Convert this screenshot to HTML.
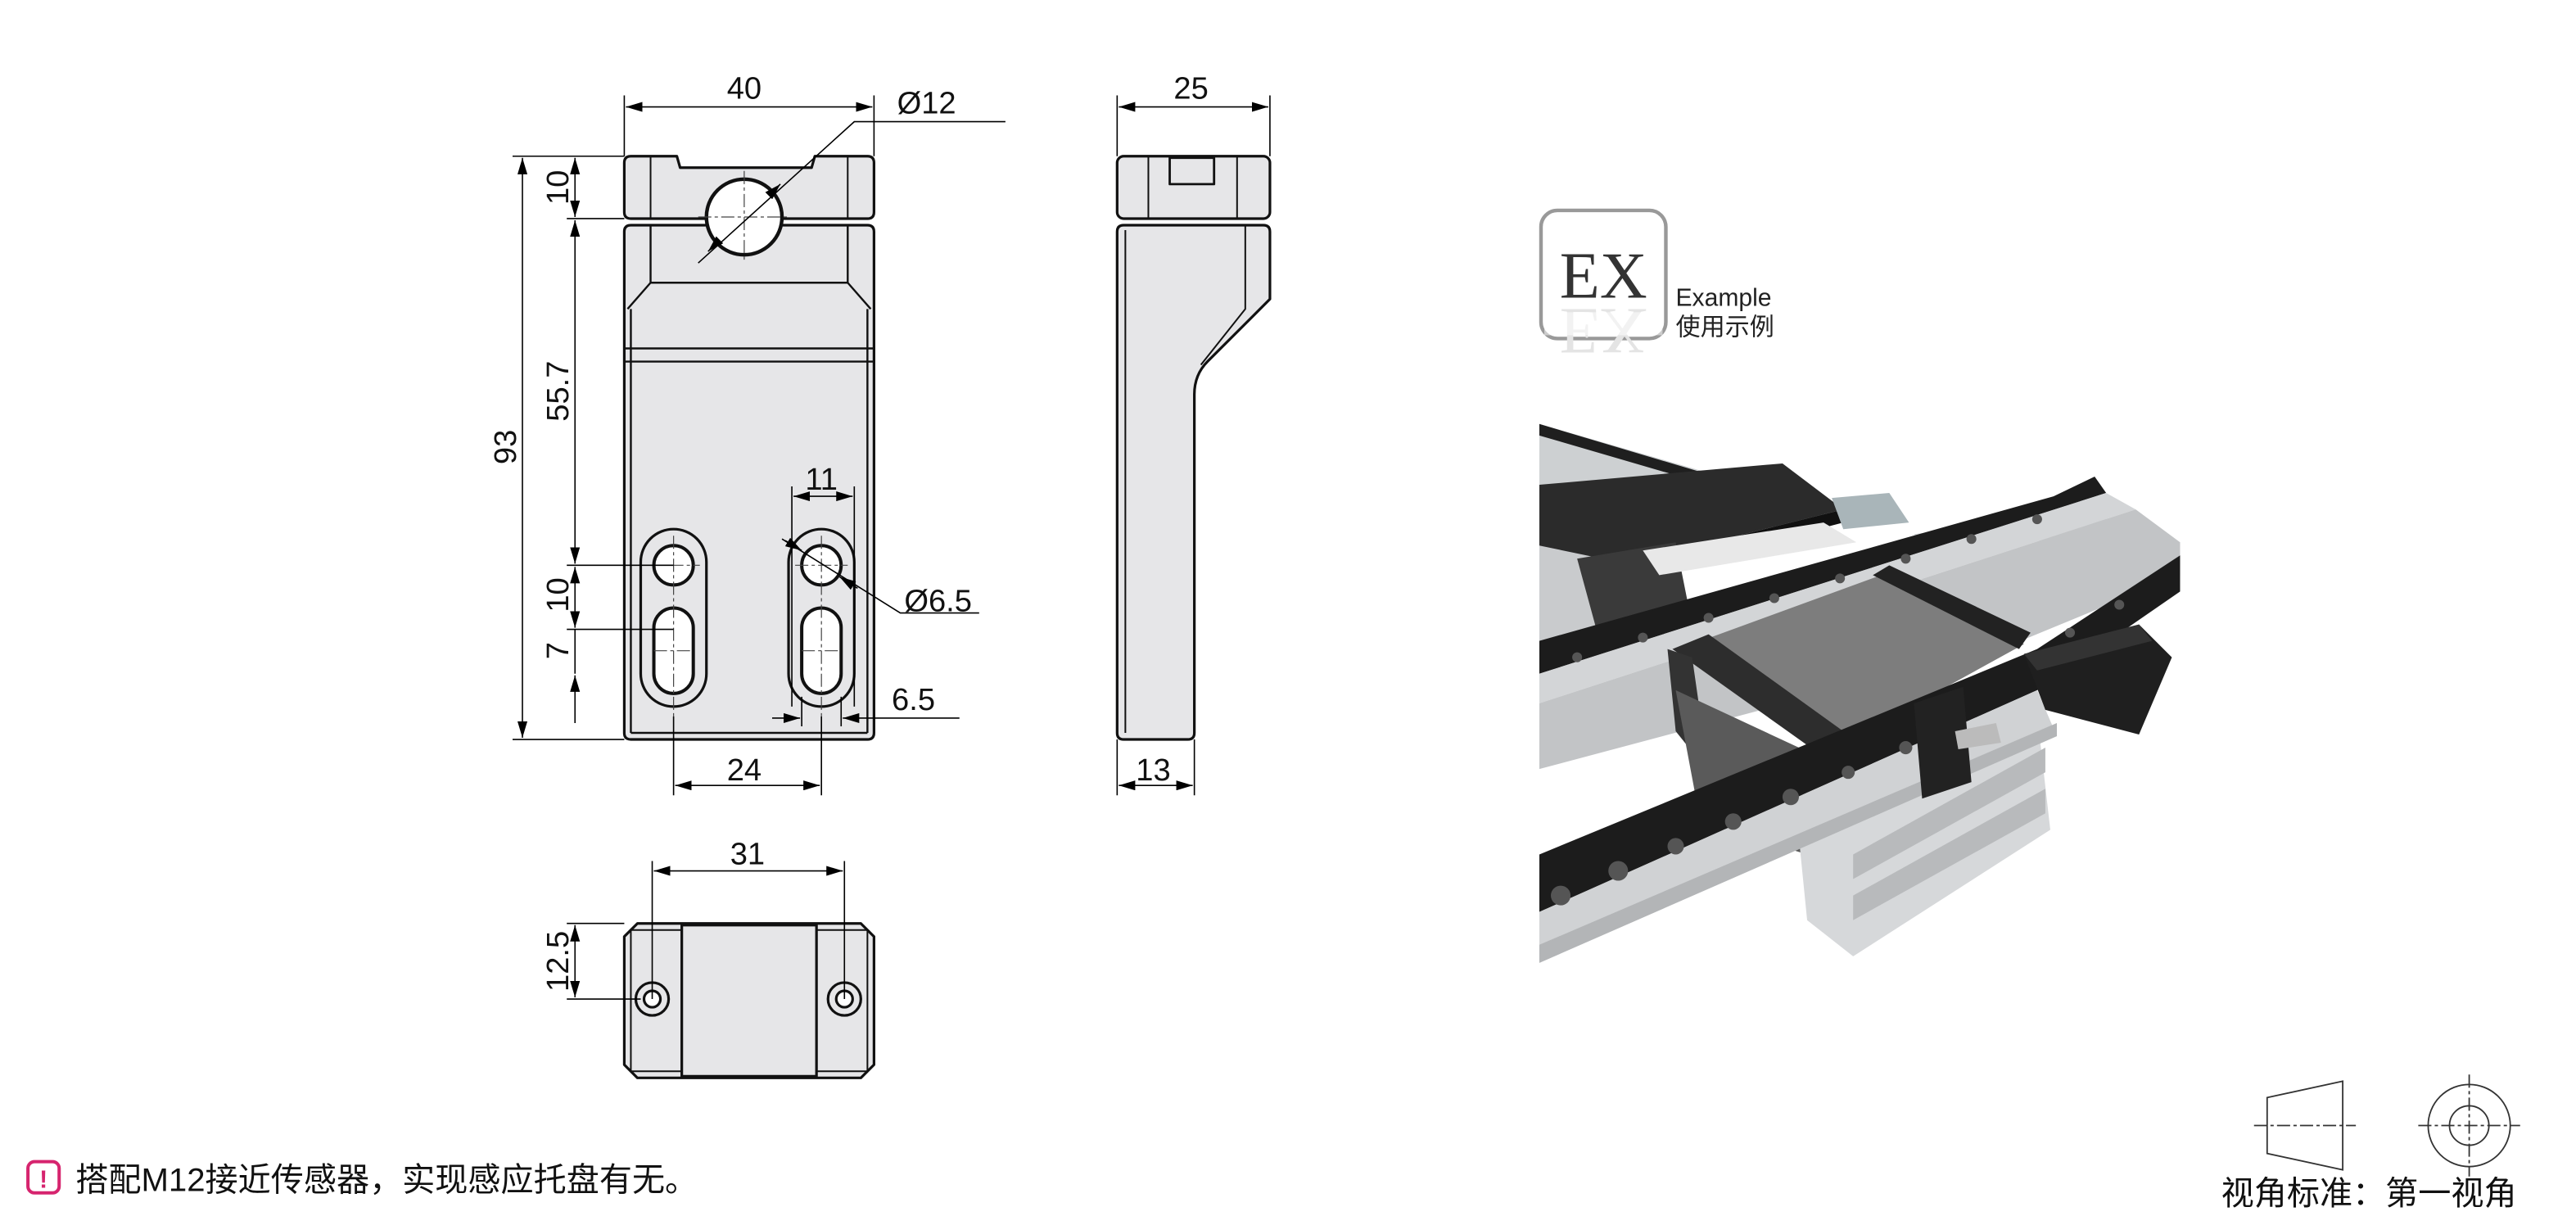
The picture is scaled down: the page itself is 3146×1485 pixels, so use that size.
<!DOCTYPE html>
<html><head><meta charset="utf-8"><style>html,body{margin:0;padding:0;background:#fff}svg{display:block}</style></head>
<body>
<svg width="3146" height="1485" viewBox="0 0 1568 740" xmlns="http://www.w3.org/2000/svg" font-family="Liberation Sans, sans-serif">
<defs>
<marker id="a" viewBox="0 0 10 6" refX="10" refY="3" markerWidth="10" markerHeight="6" orient="auto-start-reverse" markerUnits="userSpaceOnUse"><path d="M0,0L10,3L0,6z" fill="#000"/></marker>
</defs>
<g fill="#e6e6e8" stroke="#111" stroke-width="1.6" stroke-linejoin="round">
<path d="M384,95 H412 L414,102 H494 L496,95 H528 Q532,95 532,99 V129 Q532,133 528,133 H384 Q380,133 380,129 V99 Q380,95 384,95Z"/>
<path d="M384,137 H528 Q532,137 532,141 V188 L532,446 Q532,450 528,450 H384 Q380,450 380,446 V188 V141 Q380,137 384,137Z"/>
<path d="M396,137 V172 L382,188 M516,137 V172 L530,188 M396,172 H516 M380,212 H532 M380,220 H532 M384,188 V446 M528,188 V446 M384,446 H528" fill="none" stroke-width="1.2"/>
<path d="M396,95 V133 M516,95 V133" fill="none" stroke-width="1"/>
<circle cx="453" cy="132" r="23" fill="#fff" stroke-width="2.2"/>
<rect x="390" y="322" width="40" height="108" rx="20" fill="#e6e6e8"/>
<rect x="480" y="322" width="40" height="108" rx="20" fill="#e6e6e8"/>
<circle cx="410" cy="344" r="12" fill="#fff" stroke-width="2"/>
<circle cx="500" cy="344" r="12" fill="#fff" stroke-width="2"/>
<rect x="398" y="370" width="24" height="52" rx="12" fill="#fff" stroke-width="2"/>
<rect x="488" y="370" width="24" height="52" rx="12" fill="#fff" stroke-width="2"/>
<rect x="680" y="95" width="93" height="38" rx="4"/>
<path d="M699,95 V133 M753,95 V133" fill="none" stroke-width="1"/>
<rect x="712" y="96" width="27" height="16" fill="none" stroke-width="1.4"/>
<path d="M684,137 H769 Q773,137 773,141 V182 L735,220 Q727,228 727,240 V446 Q727,450 723,450 H684 Q680,450 680,446 V141 Q680,137 684,137Z"/>
<path d="M685,140 V446 M758,137 V188 L731,222" fill="none" stroke-width="1"/>
<path d="M388,562 H524 L532,570 V648 L524,656 H388 L380,648 V570Z"/>
<path d="M384,566 H528 V652 H384Z" fill="none" stroke-width="1"/>
<rect x="415" y="563" width="82" height="92" fill="#e6e6e8"/>
<circle cx="397" cy="608" r="10" fill="#e6e6e8"/><circle cx="397" cy="608" r="5" fill="#fff"/>
<circle cx="514" cy="608" r="10" fill="#e6e6e8"/><circle cx="514" cy="608" r="5" fill="#fff"/>
</g>
<g stroke="#444" stroke-width="0.6" stroke-dasharray="8,2,2,2" fill="none">
<path d="M453,104 V160 M425,132 H481 M410,326 V436 M500,326 V436 M394,344 H426 M484,344 H516 M398,396 H422 M488,396 H512"/>
</g>
<g stroke="#000" stroke-width="0.8" fill="none">
<path d="M380,58 V95 M532,58 V95 M680,58 V95 M773,58 V95"/>
<path d="M381,65 H531" marker-start="url(#a)" marker-end="url(#a)"/>
<path d="M681,65 H772" marker-start="url(#a)" marker-end="url(#a)"/>
<path d="M425,160 L520,74 H612"/>
<path d="M436,148 L431,153" marker-end="url(#a)"/><path d="M470,117 L475,112" marker-end="url(#a)"/>
<path d="M312,95 H380 M345,133 H380 M345,344 H410 M345,383 H410 M312,450 H380"/>
<path d="M318,96 V449" marker-start="url(#a)" marker-end="url(#a)"/>
<path d="M350,96 V132" marker-start="url(#a)" marker-end="url(#a)"/>
<path d="M350,134 V343" marker-start="url(#a)" marker-end="url(#a)"/>
<path d="M350,345 V382" marker-start="url(#a)" marker-end="url(#a)"/>
<path d="M350,383 V410 M350,440 V411" marker-end="url(#a)"/>
<path d="M482,296 V430 M520,296 V430"/>
<path d="M483,302 H519" marker-start="url(#a)" marker-end="url(#a)"/>
<path d="M476,328 L548,373 H596"/>
<path d="M478,329 L488,335" marker-end="url(#a)"/><path d="M522,358 L511,351" marker-end="url(#a)"/>
<path d="M488,424 V442 M512,424 V442"/>
<path d="M470,437 H487" marker-end="url(#a)"/><path d="M584,437 H513" marker-end="url(#a)"/>
<path d="M410,436 V484 M500,436 V484 M680,450 V484 M727,450 V484"/>
<path d="M411,478 H499" marker-start="url(#a)" marker-end="url(#a)"/>
<path d="M681,478 H726" marker-start="url(#a)" marker-end="url(#a)"/>
<path d="M397,524 V608 M514,524 V608"/>
<path d="M398,530 H513" marker-start="url(#a)" marker-end="url(#a)"/>
<path d="M345,562 H380 M345,608 H390"/>
<path d="M350,563 V607" marker-start="url(#a)" marker-end="url(#a)"/>
</g>
<g font-size="19" fill="#111" text-anchor="middle">
<text x="453" y="60">40</text>
<text x="564" y="69">Ø12</text>
<text x="725" y="60">25</text>
<text transform="translate(314,272) rotate(-90)">93</text>
<text transform="translate(346,114) rotate(-90)">10</text>
<text transform="translate(346,238) rotate(-90)">55.7</text>
<text transform="translate(346,362) rotate(-90)">10</text>
<text transform="translate(346,396) rotate(-90)">7</text>
<text x="500" y="298">11</text>
<text x="571" y="372">Ø6.5</text>
<text x="556" y="432">6.5</text>
<text x="453" y="475">24</text>
<text x="702" y="475">13</text>
<text x="455" y="526">31</text>
<text transform="translate(346,585) rotate(-90)">12.5</text>
</g>
<rect x="938" y="128" width="76" height="78" rx="10" fill="#fff" stroke="#999" stroke-width="2.2"/>
<text x="976" y="181" font-family="Liberation Serif, serif" font-size="40" fill="#333" text-anchor="middle">EX</text>
<text x="976" y="-188" font-family="Liberation Serif, serif" font-size="40" fill="#e4e4e4" text-anchor="middle" transform="scale(1,-1)">EX</text>
<rect x="940" y="190" width="72" height="14" fill="#fff" opacity="0.5"/>
<text x="1020" y="186" font-size="15" fill="#222">Example</text>
<text x="1020" y="204" font-size="15" fill="#222" font-family="Liberation Sans, Noto Sans CJK SC, sans-serif">使用示例</text>
<!-- photo -->
<g>
<!-- back upper rail & aluminum -->
<polygon points="937,258 1110,308 1110,325 937,300" fill="#cdd0d2"/>
<polygon points="937,258 1105,308 1105,314 937,265" fill="#1f1f1f"/>
<!-- left background aluminum under tray -->
<polygon points="937,300 1000,330 1000,400 937,390" fill="#c9cbcd"/>
<!-- black tray upper left -->
<polygon points="937,295 1085,282 1122,310 990,343 937,332" fill="#2b2b2b"/>
<polygon points="990,343 1122,310 1122,318 992,352" fill="#111"/>
<polygon points="960,340 1020,330 1030,380 975,395" fill="#3a3a3a"/>
<polygon points="1000,335 1110,318 1130,330 1010,350" fill="#e8e8e8"/>
<!-- gray block -->
<polygon points="1115,303 1150,300 1162,318 1122,322" fill="#a9b5b9"/>
<!-- back right frame -->
<polygon points="1165,325 1270,312 1327,330 1327,345 1272,325 1175,338" fill="#d9dbdd"/>
<polygon points="1255,302 1275,292 1280,318 1265,320" fill="#cfd3d5"/>
<!-- middle long black rail -->
<polygon points="937,390 1250,302 1275,290 1282,300 937,410" fill="#1c1c1c"/>
<polygon points="937,410 1282,300 1300,310 937,428" fill="#d3d5d7"/>
<polygon points="937,428 1300,310 1327,330 1327,350 1230,390 937,468" fill="#c2c4c6"/>
<!-- tray -->
<polygon points="1030,392 1145,350 1232,392 1112,458" fill="#7d7d7d"/>
<polygon points="1018,395 1040,386 1122,445 1112,462" fill="#2d2d2d"/>
<polygon points="1140,350 1150,344 1236,385 1229,395" fill="#222"/>
<polygon points="1015,395 1030,400 1040,470 1020,445" fill="#333"/>
<!-- bracket under tray -->
<polygon points="1020,420 1095,455 1100,520 1035,500" fill="#5a5a5a"/>
<!-- lower structure -->
<polygon points="1095,510 1240,435 1248,505 1128,582 1100,560" fill="#d6d8da"/>
<polygon points="1128,520 1245,455 1245,470 1128,535" fill="#b8babc"/>
<polygon points="1128,545 1245,480 1245,495 1128,560" fill="#b8babc"/>
<!-- front rail -->
<polygon points="937,520 1240,395 1327,338 1327,360 1240,420 937,555" fill="#1c1c1c"/>
<polygon points="937,555 1240,420 1252,448 937,586" fill="#d0d2d4"/>
<polygon points="937,575 1252,440 1252,448 937,586" fill="#b3b5b7"/>
<!-- sensor bracket & sensor -->
<polygon points="1165,428 1195,418 1200,476 1170,486" fill="#222"/>
<polygon points="1190,445 1215,440 1218,452 1192,456" fill="#bbb"/>
<polygon points="1232,398 1302,380 1322,400 1302,447 1245,432" fill="#1f1f1f"/>
<polygon points="1232,398 1302,380 1310,390 1240,408" fill="#333"/>
<g fill="#555">
<circle cx="950" cy="545" r="6"/><circle cx="985" cy="530" r="6"/><circle cx="1020" cy="515" r="5"/><circle cx="1055" cy="500" r="5"/><circle cx="1090" cy="485" r="5"/><circle cx="1125" cy="470" r="4"/><circle cx="1160" cy="455" r="4"/><circle cx="1260" cy="385" r="3"/><circle cx="1290" cy="368" r="3"/>
<circle cx="960" cy="400" r="3"/><circle cx="1000" cy="388" r="3"/><circle cx="1040" cy="376" r="3"/><circle cx="1080" cy="364" r="3"/><circle cx="1120" cy="352" r="3"/><circle cx="1160" cy="340" r="3"/><circle cx="1200" cy="328" r="3"/><circle cx="1240" cy="316" r="3"/>
</g>
</g>
<rect x="17" y="707" width="19" height="19" rx="4" fill="#fff" stroke="#d6246e" stroke-width="2"/>
<text x="26.5" y="723" font-size="15" font-weight="bold" fill="#d6246e" text-anchor="middle">!</text>
<text x="46" y="725" font-size="20" fill="#111" font-family="Liberation Sans, Noto Sans CJK SC, sans-serif">搭配M12接近传感器，实现感应托盘有无。</text>
<g stroke="#333" stroke-width="0.9" fill="none">
<polygon points="1380,668 1426,658 1426,712 1380,702"/>
<path d="M1372,685 H1434" stroke-dasharray="8,2,2,2"/>
<circle cx="1503" cy="685" r="25"/><circle cx="1503" cy="685" r="12"/>
<path d="M1472,685 H1534 M1503,654 V716" stroke-dasharray="8,2,2,2"/>
</g>
<text x="1352" y="733" font-size="20" fill="#111" font-family="Liberation Sans, Noto Sans CJK SC, sans-serif">视角标准：第一视角</text>
</svg>
</body></html>
